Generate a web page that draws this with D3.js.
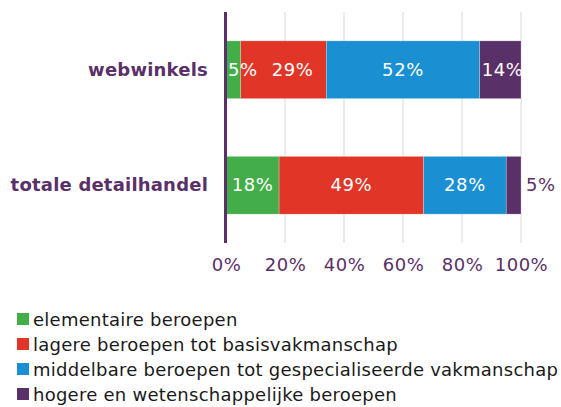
<!DOCTYPE html>
<html><head><meta charset="utf-8">
<script src="https://cdn.jsdelivr.net/npm/d3@7"></script>
<style>body{margin:0;background:#fff}svg{display:block;font-family:"DejaVu Sans",Verdana,sans-serif}</style>
</head><body><svg id="c" width="561" height="407"></svg>
<script>
const categories = ["webwinkels", "totale detailhandel"];
const seriesNames = ["elementaire beroepen", "lagere beroepen tot basisvakmanschap", "middelbare beroepen tot gespecialiseerde vakmanschap", "hogere en wetenschappelijke beroepen"];
const elementaire = [5, 18];
const lagere = [29, 49];
const middelbare = [52, 28];
const hogere = [14, 5];
const tickValues = [0, 20, 40, 60, 80, 100];
const colors = ["#43ad4a", "#e03527", "#1a90d2", "#5a3068"];

const purple = "#5a3068";
const svg = d3.select("#c");
const x = d3.scaleLinear().domain([0, 100]).range([226, 521]);
const y = d3.scaleBand().domain(categories).range([12, 243]).paddingInner(0.5).paddingOuter(0.25);

const rows = categories.map((c, i) => {
  const vals = [elementaire[i], lagere[i], middelbare[i], hogere[i]];
  let acc = 0;
  return vals.map((v, k) => { const s = {cat: c, k, v, x0: acc, x1: acc + v}; acc += v; return s; });
});

// gridlines
svg.append("g").selectAll("line").data(tickValues.filter(t => t > 0)).join("line")
  .attr("x1", d => x(d)).attr("x2", d => x(d)).attr("y1", 12).attr("y2", 243)
  .attr("stroke", "#d9d9d9").attr("stroke-width", 1);

// x axis tick labels
const xAxis = d3.axisBottom(x).tickValues(tickValues).tickFormat(d => d + "%").tickSize(0).tickPadding(0);
const gx = svg.append("g").attr("transform", "translate(0,258)").call(xAxis);
gx.select(".domain").remove();
gx.selectAll("text").attr("fill", purple).style("font-size", "18px").style("letter-spacing", "0.5px")
  .attr("font-family", '"DejaVu Sans",Verdana,sans-serif');

// bars
const segs = rows.flat();
svg.append("g").selectAll("rect").data(segs).join("rect")
  .attr("x", d => x(d.x0)).attr("width", d => x(d.x1) - x(d.x0))
  .attr("y", d => y(d.cat)).attr("height", y.bandwidth())
  .attr("fill", d => colors[d.k]).attr("stroke", "#ffffff").attr("stroke-opacity", 0.4).attr("stroke-width", 0.6);

// y axis line
svg.append("line").attr("x1", 225.5).attr("x2", 225.5).attr("y1", 12).attr("y2", 243)
  .attr("stroke", purple).attr("stroke-width", 3);

// category labels
svg.append("g").selectAll("text").data(categories).join("text")
  .attr("x", 208).attr("y", d => y(d) + y.bandwidth() / 2 + 6)
  .attr("text-anchor", "end").attr("fill", purple).attr("font-weight", "bold")
  .style("font-size", "18px").style("letter-spacing", "0.2px")
  .text(d => d);

// value labels
const lg = svg.append("g");
rows.forEach(row => {
  let prevRight = -Infinity;
  row.forEach((s, k) => {
    const t = lg.append("text").style("font-size", "18px").style("letter-spacing", "0.6px").text(s.v + "%");
    const w = t.node().getComputedTextLength();
    const segW = x(s.x1) - x(s.x0);
    const cy = y(s.cat) + y.bandwidth() / 2 + 6;
    if (k === row.length - 1 && segW < w * 0.6) {
      t.attr("x", x(s.x1) + 5).attr("y", cy).attr("fill", purple);
      return;
    }
    let left = (x(s.x0) + x(s.x1)) / 2 - w / 2;
    left = Math.max(left, x(s.x0) + 2, prevRight + 14);
    t.attr("x", left).attr("y", cy).attr("fill", "#fff");
    prevRight = left + w;
  });
});

// legend
const leg = svg.append("g").selectAll("g").data(seriesNames).join("g")
  .attr("transform", (d, i) => `translate(17,${313 + i * 25})`);
leg.append("rect").attr("width", 12).attr("height", 12).attr("fill", (d, i) => colors[i]);
leg.append("text").attr("x", 16).attr("y", 13).attr("fill", "#1a1a1a")
  .style("font-size", "18px").style("letter-spacing", "0.25px").text(d => d);
</script></body></html>
